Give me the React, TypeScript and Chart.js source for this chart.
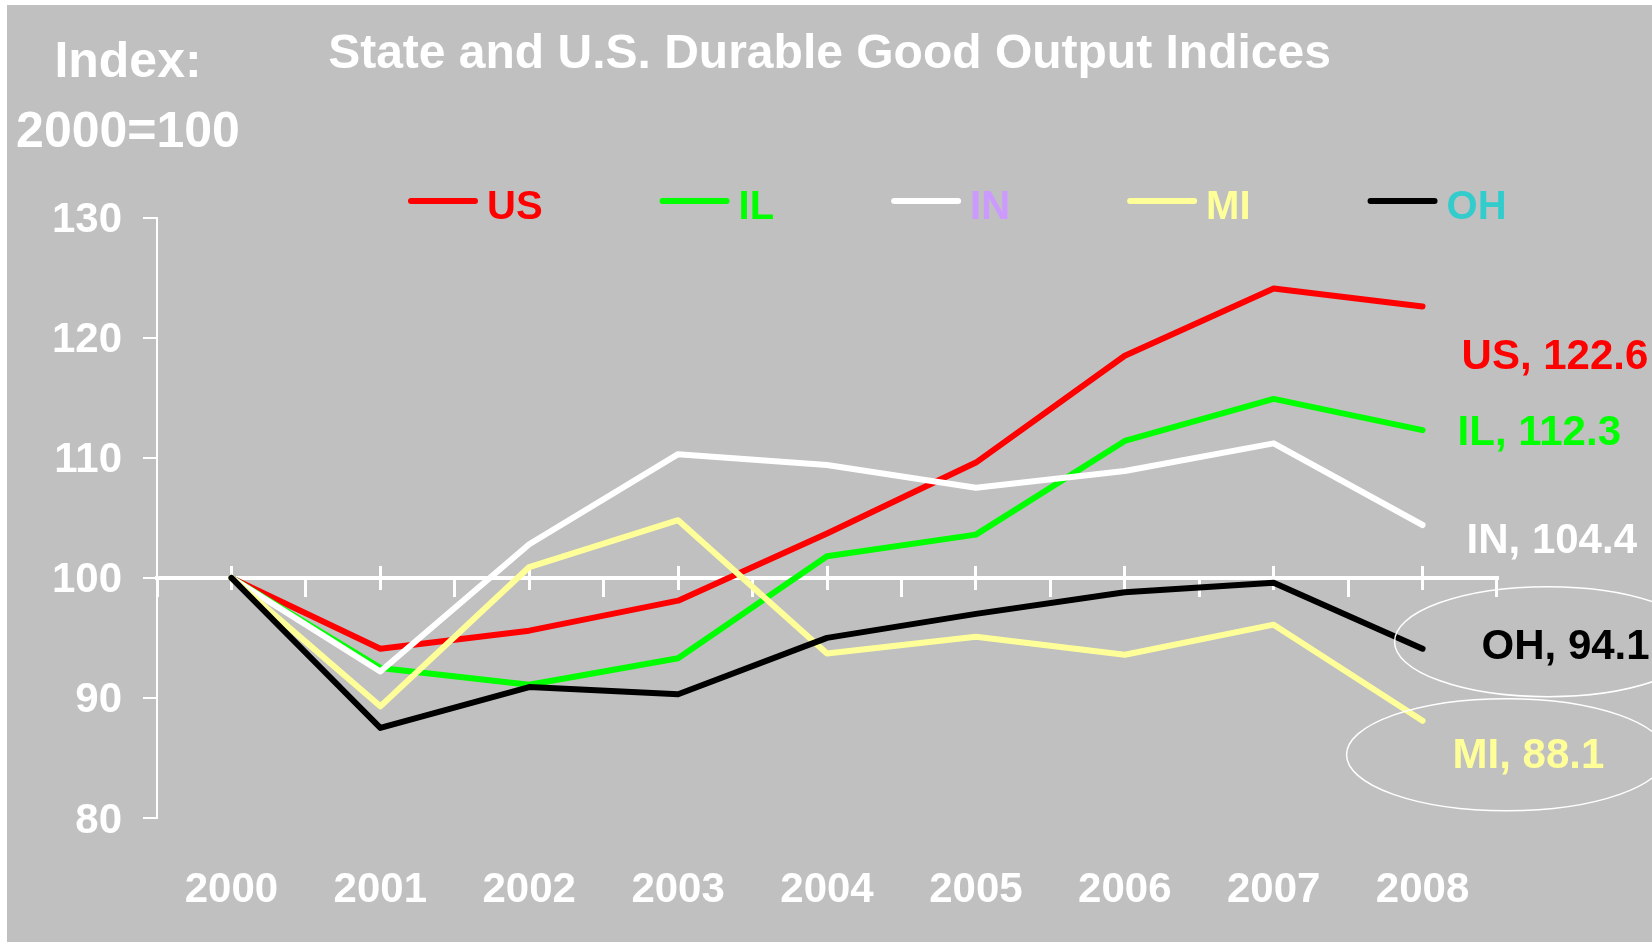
import React, { useEffect, useRef } from 'react';
import { Chart, registerables } from 'chart.js';

Chart.register(...registerables);

const FONT = '"Liberation Sans", Arial, Helvetica, sans-serif';

// ---------- data ----------
const years = ['2000', '2001', '2002', '2003', '2004', '2005', '2006', '2007', '2008'];
const seriesNames = ['US', 'IL', 'IN', 'MI', 'OH'];
const usValues = [100, 94.1, 95.6, 98.1, 103.7, 109.6, 118.5, 124.1, 122.6];
const ilValues = [100, 92.5, 91.1, 93.3, 101.8, 103.6, 111.4, 114.9, 112.3];
const inValues = [100, 92.2, 102.8, 110.3, 109.4, 107.5, 108.9, 111.2, 104.4];
const miValues = [100, 89.3, 100.9, 104.8, 93.7, 95.1, 93.6, 96.1, 88.1];
const ohValues = [100, 87.5, 90.9, 90.3, 95.0, 97.0, 98.8, 99.6, 94.1];
const yTickMin = 80;
const yTickMax = 130;
const yTickStep = 10;
const baselineValue = 100;
const chartTitle = 'State and U.S. Durable Good Output Indices';
const axisTitleLines = ['Index:', '2000=100'];
const circledSeries = ['OH', 'MI'];

// ---------- style ----------
const lineColors = ['#FF0000', '#00FF00', '#FFFFFF', '#FFFF99', '#000000'];
const legendTextColors = ['#FF0000', '#00FF00', '#CC99FF', '#FFFF99', '#33CCCC'];
const drawOrder = [5, 4, 3, 2, 1];
// end-label offsets from the last point: [dx, dyBaseline]
const endLabelOffsets = [[39, 63], [35, 15], [44, 28], [30, 47], [59, 10]];
// ellipse around end labels, relative to the last point: [dx, dy, rx, ry]
const ellipseStyle: Record<string, number[]> = { OH: [125, -7, 153, 55], MI: [84, 34, 160, 56] };

const seriesValues = [usValues, ilValues, inValues, miValues, ohValues];

const overlayPlugin = {
  id: 'overlay',
  afterDraw(chart: any) {
    const ctx = chart.ctx as CanvasRenderingContext2D;
    ctx.save();

    // axis title (top-left)
    ctx.fillStyle = '#FFFFFF';
    ctx.font = `bold 50px ${FONT}`;
    ctx.textAlign = 'center';
    ctx.textBaseline = 'alphabetic';
    ctx.fillText(axisTitleLines[0], 121, 72);
    ctx.fillText(axisTitleLines[1], 121, 142);

    // legend
    ctx.font = `bold 40px ${FONT}`;
    ctx.textAlign = 'left';
    let x = 404;
    const ly = 196;
    seriesNames.forEach((name, i) => {
      ctx.beginPath();
      ctx.strokeStyle = lineColors[i];
      ctx.lineWidth = 6;
      ctx.lineCap = 'round';
      ctx.moveTo(x, ly);
      ctx.lineTo(x + 64, ly);
      ctx.stroke();
      ctx.fillStyle = legendTextColors[i];
      ctx.fillText(name, x + 76, 214);
      x = x + 76 + ctx.measureText(name).width + 120;
    });

    // end labels
    ctx.font = `bold 42px ${FONT}`;
    chart.data.datasets.forEach((ds: any, i: number) => {
      const meta = chart.getDatasetMeta(i);
      const pt = meta.data[meta.data.length - 1];
      const v = ds.data[ds.data.length - 1] as number;
      const [dx, dy] = endLabelOffsets[i];
      ctx.fillStyle = lineColors[i];
      ctx.fillText(`${ds.label}, ${v.toFixed(1)}`, pt.x + dx, pt.y + dy);
      if (circledSeries.includes(ds.label)) {
        const [ex, ey, rx, ry] = ellipseStyle[ds.label];
        ctx.beginPath();
        ctx.strokeStyle = '#FFFFFF';
        ctx.lineWidth = 1.5;
        ctx.ellipse(pt.x + ex, pt.y + ey, rx, ry, 0, 0, Math.PI * 2);
        ctx.stroke();
      }
    });

    ctx.restore();
  },
};

export default function App() {
  const ref = useRef<HTMLCanvasElement>(null);

  useEffect(() => {
    const tickFont = { family: FONT, size: 42, weight: 'bold' as const };
    const chart = new Chart(ref.current as HTMLCanvasElement, {
      type: 'line',
      data: {
        labels: years,
        datasets: seriesNames.map((name, i) => ({
          label: name,
          data: seriesValues[i],
          borderColor: lineColors[i],
          backgroundColor: lineColors[i],
          borderWidth: 6,
          pointRadius: 0,
          pointHoverRadius: 0,
          tension: 0,
          borderCapStyle: 'round' as const,
          borderJoinStyle: 'round' as const,
          order: drawOrder[i],
          fill: false,
        })),
      },
      options: {
        animation: false,
        responsive: false,
        devicePixelRatio: 1,
        layout: { padding: 0 },
        plugins: {
          legend: { display: false },
          tooltip: { enabled: false },
          title: {
            display: true,
            text: chartTitle,
            color: '#FFFFFF',
            font: { family: FONT, size: 48, weight: 'bold' },
            padding: { top: 21, bottom: 134 },
          },
        },
        scales: {
          x: {
            type: 'category',
            position: 'bottom',
            offset: true,
            grid: { display: false, drawTicks: false },
            border: { display: false },
            ticks: { color: '#FFFFFF', font: tickFont, padding: 47, maxRotation: 0, autoSkip: false },
            afterFit: (s: any) => { s.height = 124; },
          },
          x2: {
            type: 'category',
            axis: 'x',
            position: { y: baselineValue },
            offset: true,
            grid: { display: true, drawOnChartArea: false, drawTicks: true, tickLength: 17, offset: true, color: '#FFFFFF', lineWidth: 3 },
            border: { display: true, color: '#FFFFFF', width: 4 },
            ticks: { display: false },
          },
          x3: {
            type: 'category',
            axis: 'x',
            position: { y: baselineValue + 1 },
            offset: true,
            grid: { display: true, drawOnChartArea: false, drawTicks: true, tickLength: 24, offset: false, color: '#FFFFFF', lineWidth: 3 },
            border: { display: false },
            ticks: { display: false },
          },
          y: {
            type: 'linear',
            position: 'left',
            min: yTickMin,
            max: yTickMax,
            ticks: { stepSize: yTickStep, color: '#FFFFFF', font: tickFont, padding: 21, labelOffset: 3 },
            grid: { display: true, drawOnChartArea: false, drawTicks: true, tickLength: 14, color: '#FFFFFF', lineWidth: 2 },
            border: { display: true, color: '#FFFFFF', width: 2 },
            afterFit: (s: any) => { s.width = 150; },
          },
          y2: {
            type: 'linear',
            position: 'right',
            display: true,
            grid: { display: false, drawTicks: false },
            border: { display: false },
            ticks: { display: false },
            afterFit: (s: any) => { s.width = 155; },
          },
        },
      } as any,
      plugins: [overlayPlugin],
    });
    return () => chart.destroy();
  }, []);

  return (
    <div style={{ position: 'fixed', left: 0, top: 0, width: 1652, height: 942, background: '#FFFFFF' }}>
      <div style={{ position: 'absolute', left: 7, top: 5, width: 1645, height: 937, background: '#C0C0C0' }}>
        <canvas ref={ref} width={1645} height={937} style={{ display: 'block' }} />
      </div>
    </div>
  );
}
